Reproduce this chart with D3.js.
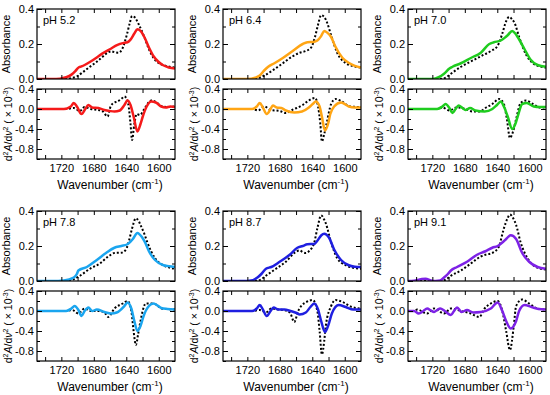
<!DOCTYPE html>
<html lang="en">
  <head>
    <meta charset="UTF-8" />
    <title>Amide I spectra vs pH</title>
    <style>
      body { margin: 0; background: #fff; }
      svg { display: block; font-family: "Liberation Sans", Arial, sans-serif; }
      .box { fill: none; stroke: #000; stroke-width: 1.2; }
      .axis path { display: none; }
      .axis line { stroke: #000; stroke-width: 1; }
      .axis text { font-size: 11px; fill: #000; }
      .ref { fill: none; stroke: #000; stroke-width: 2; stroke-dasharray: 2, 2; }
      .sample { fill: none; stroke-width: 2.5; stroke-linejoin: round; }
    </style>
  </head>
  <body>
    <svg width="550" height="395"></svg>

    <script src="https://d3js.org/d3.v7.min.js"></script>
    <script>
      // Panel labels and tick values
      const phLabels = ["pH 5.2", "pH 6.4", "pH 7.0", "pH 7.8", "pH 8.7", "pH 9.1"];
      const wnDomain = [1750, 1580];
      const wnTicks = [1720, 1680, 1640, 1600];
      const wnMinor = [1740, 1720, 1700, 1680, 1660, 1640, 1620, 1600];
      const absTicks = [0, 0.2, 0.4];
      const absMinor = [0.1, 0.3];
      const d2Domain = [-1.0, 0.4];
      const d2Ticks = [0.4, 0, -0.4, -0.8];
      const d2Minor = [0.2, -0.2, -0.6, -1.0];

      // [wavenumber, value] pairs
      // absorbance, sample (solid) and reference (dotted)
      const abs52 = [[1750,0],[1731.1,0],[1721.7,0.002],[1714.1,0.01],[1707.5,0.025],[1702.8,0.045],[1699,0.065],[1695.2,0.072],[1691.4,0.08],[1683.9,0.1],[1677.3,0.12],[1669.7,0.145],[1660.3,0.17],[1650.8,0.195],[1644.2,0.205],[1638.6,0.21],[1634.8,0.225],[1630.1,0.26],[1626.3,0.285],[1622.5,0.275],[1617.8,0.24],[1612.1,0.18],[1606.4,0.13],[1600.8,0.1],[1595.1,0.08],[1587.6,0.066],[1580,0.06]];
      const absRef52 = [[1750,0],[1716.9,0],[1707.5,0.005],[1700.9,0.015],[1693.3,0.04],[1684.8,0.07],[1677.3,0.095],[1669.7,0.125],[1663.1,0.15],[1658.4,0.158],[1653.7,0.152],[1649.9,0.15],[1645.2,0.17],[1639.5,0.25],[1635.7,0.32],[1632.9,0.36],[1629.1,0.35],[1624.4,0.31],[1617.8,0.24],[1612.1,0.17],[1606.4,0.12],[1599.8,0.09],[1591.3,0.075],[1580,0.065]];
      const abs64 = [[1750,0],[1719.8,0],[1710.3,0.008],[1704.7,0.02],[1699,0.05],[1694.3,0.07],[1686.7,0.09],[1676.3,0.12],[1664.1,0.16],[1651.8,0.2],[1646.1,0.21],[1638.6,0.212],[1633.8,0.22],[1629.1,0.245],[1625.3,0.275],[1621.6,0.265],[1616.8,0.24],[1612.1,0.19],[1602.7,0.12],[1594.2,0.09],[1587.6,0.075],[1580,0.065]];
      const absRef64 = [[1750,0],[1712.2,0],[1704.7,0.008],[1699,0.02],[1688.6,0.05],[1676.3,0.09],[1664.1,0.13],[1655.6,0.15],[1648,0.16],[1641.4,0.18],[1636.7,0.24],[1632.9,0.31],[1629.1,0.365],[1625.3,0.355],[1621.6,0.32],[1616.8,0.25],[1609.3,0.15],[1598.9,0.09],[1590.4,0.075],[1580,0.065]];
      const abs70 = [[1750,0],[1719.8,0],[1712.2,0.01],[1705.6,0.03],[1699,0.06],[1695.2,0.07],[1684.8,0.09],[1672.6,0.12],[1660.3,0.15],[1649.9,0.2],[1644.2,0.21],[1635.7,0.22],[1631,0.235],[1627.2,0.25],[1621.6,0.275],[1617.8,0.26],[1614.9,0.24],[1606.4,0.17],[1598.9,0.11],[1590.4,0.08],[1580,0.07]];
      const absRef70 = [[1750,0],[1710.3,0],[1702.8,0.01],[1697.1,0.03],[1684.8,0.07],[1672.6,0.1],[1660.3,0.13],[1648,0.16],[1639.5,0.19],[1633.8,0.26],[1629.1,0.33],[1625.3,0.355],[1621.6,0.34],[1618.7,0.32],[1613.1,0.24],[1604.6,0.14],[1596.1,0.09],[1587.6,0.072],[1580,0.065]];
      const abs78 = [[1750,0],[1731.1,0],[1716.9,0.003],[1704.7,0.02],[1700.9,0.04],[1699,0.06],[1688.6,0.08],[1676.3,0.12],[1665,0.16],[1654.6,0.19],[1646.1,0.2],[1638.6,0.21],[1634.8,0.225],[1631.9,0.24],[1626.3,0.275],[1620.6,0.25],[1616.8,0.22],[1612.1,0.17],[1604.6,0.12],[1594.2,0.09],[1587.6,0.085],[1580,0.08]];
      const absRef78 = [[1750,0],[1712.2,0],[1704.7,0.01],[1697.1,0.03],[1684.8,0.07],[1672.6,0.1],[1662.2,0.14],[1654.6,0.16],[1646.1,0.162],[1640.4,0.18],[1636.7,0.23],[1632.9,0.3],[1628.2,0.358],[1624.4,0.34],[1622.5,0.32],[1617.8,0.27],[1614,0.22],[1604.6,0.13],[1594.2,0.09],[1587.6,0.078],[1580,0.07]];
      const abs87 = [[1750,0],[1726.4,0],[1713.2,0.005],[1707.5,0.02],[1702.8,0.04],[1697.1,0.07],[1690.5,0.08],[1680.1,0.11],[1667.8,0.15],[1658.4,0.19],[1651.8,0.2],[1646.1,0.21],[1637.6,0.212],[1633.8,0.23],[1629.1,0.26],[1625.3,0.27],[1619.7,0.25],[1613.1,0.18],[1604.6,0.12],[1595.1,0.09],[1587.6,0.082],[1580,0.08]];
      const absRef87 = [[1750,0],[1710.3,0],[1702.8,0.01],[1697.1,0.03],[1684.8,0.07],[1672.6,0.11],[1662.2,0.16],[1655.6,0.175],[1651.8,0.165],[1648,0.16],[1644.2,0.17],[1637.6,0.22],[1633.8,0.3],[1629.1,0.375],[1625.3,0.35],[1623.4,0.33],[1616.8,0.22],[1609.3,0.13],[1598.9,0.09],[1589.4,0.075],[1580,0.07]];
      const abs91 = [[1750,0],[1742.4,0.002],[1736.8,0.008],[1733,0.012],[1728.3,0.013],[1721.7,0.003],[1716,0],[1710.3,0.003],[1705.6,0.02],[1700.9,0.04],[1697.1,0.06],[1689.6,0.08],[1677.3,0.11],[1665,0.15],[1654.6,0.17],[1646.1,0.19],[1639.5,0.2],[1633.8,0.22],[1629.1,0.24],[1623.4,0.262],[1616.8,0.24],[1609.3,0.16],[1600.8,0.11],[1590.4,0.08],[1580,0.07]];
      const absRef91 = [[1750,0],[1707.5,0],[1702.8,0.01],[1697.1,0.03],[1684.8,0.06],[1672.6,0.1],[1660.3,0.14],[1654.6,0.15],[1646.1,0.16],[1637.6,0.2],[1634.8,0.25],[1631.9,0.3],[1627.2,0.36],[1624.4,0.38],[1620.6,0.36],[1616.8,0.32],[1611.2,0.22],[1602.7,0.13],[1592.3,0.08],[1580,0.065]];

      // second derivative (x 10^-3), sample and reference
      const d2_52 = [[1750,0],[1716.9,0],[1708.4,0.05],[1704.7,0.12],[1700.9,0.05],[1695.2,-0.1],[1690.5,0],[1686.7,0.08],[1682,0.03],[1674.4,0.02],[1666.9,-0.02],[1660.3,-0.04],[1654.6,-0.05],[1648,-0.03],[1642.3,0.08],[1638.6,0.17],[1634.8,0.08],[1631,-0.15],[1626.3,-0.45],[1622.5,-0.3],[1619.7,-0.15],[1614.9,0.05],[1609.3,0.15],[1603.6,0.13],[1597,0.05],[1591.3,0.03],[1585.7,0.05],[1580,0.04]];
      const d2Ref52 = [[1750,0],[1714.1,0],[1704.7,0.02],[1697.1,-0.04],[1691.4,0.04],[1683.9,0],[1674.4,-0.02],[1668.8,-0.05],[1663.1,-0.15],[1659.3,0.05],[1655.6,0.12],[1650.8,0.15],[1646.1,0.2],[1642.3,0.25],[1637.6,0.1],[1634.8,-0.3],[1632.9,-0.62],[1630.1,-0.3],[1627.2,-0.1],[1623.4,-0.12],[1617.8,0],[1613.1,0.12],[1609.3,0.17],[1603.6,0.14],[1597,0.06],[1589.4,0.04],[1580,0.05]];
      const d2_64 = [[1750,0],[1714.1,0],[1708.4,0.05],[1704.7,0.12],[1700.9,0.03],[1696.2,-0.1],[1691.4,0],[1688.6,0.07],[1683.9,0.03],[1678.2,0.02],[1672.6,-0.03],[1662.2,-0.07],[1652.7,-0.05],[1644.2,0.03],[1639.5,0.1],[1635.7,0.15],[1631,0.05],[1628.2,-0.15],[1624.4,-0.43],[1620.6,-0.3],[1617.8,-0.1],[1613.1,0.05],[1604.6,0.13],[1595.1,0.05],[1587.6,0.03],[1580,0.03]];
      const d2Ref64 = [[1750,0],[1714.1,0],[1706.6,-0.03],[1699,0.05],[1691.4,-0.02],[1680.1,-0.04],[1672.6,-0.08],[1665,-0.02],[1659.3,0.02],[1651.8,0.08],[1646.1,0.15],[1636.7,0.22],[1632.9,0.05],[1630.1,-0.3],[1628.2,-0.65],[1625.3,-0.5],[1622.5,-0.3],[1616.8,0.1],[1611.2,0.2],[1603.6,0.15],[1593.2,0.05],[1580,0.04]];
      const d2_70 = [[1750,0],[1714.1,0],[1707.5,0.05],[1703.7,0.1],[1699,0.02],[1695.2,-0.08],[1691.4,0],[1687.7,0.07],[1682.9,0.02],[1679.2,-0.02],[1673.5,0.02],[1666.9,-0.03],[1655.6,-0.05],[1646.1,0],[1640.4,0.08],[1635.7,0.15],[1631.9,0.05],[1627.2,-0.15],[1621.6,-0.4],[1617.8,-0.3],[1614.9,-0.15],[1609.3,0.1],[1603.6,0.12],[1595.1,0.05],[1587.6,0.04],[1580,0.04]];
      const d2Ref70 = [[1750,0],[1714.1,0],[1707.5,0.03],[1699,-0.03],[1690.5,0.03],[1679.2,0],[1670.7,-0.05],[1662.2,-0.05],[1653.7,0.03],[1646.1,0.1],[1637.6,0.2],[1631.9,0.1],[1628.2,-0.2],[1624.4,-0.58],[1620.6,-0.45],[1616.8,-0.2],[1611.2,0.12],[1604.6,0.17],[1596.1,0.1],[1587.6,0.03],[1580,0.03]];
      const d2_78 = [[1750,0],[1714.1,0],[1707.5,0.05],[1703.7,0.1],[1699,0.02],[1695.2,-0.1],[1691.4,0],[1686.7,0.07],[1682,0],[1676.3,0.03],[1666.9,-0.02],[1658.4,-0.05],[1651.8,-0.03],[1642.3,0.1],[1638.6,0.17],[1633.8,0.05],[1630.1,-0.2],[1626.3,-0.4],[1622.5,-0.3],[1618.7,-0.1],[1612.1,0.1],[1606.4,0.15],[1597,0.06],[1589.4,0.04],[1580,0.03]];
      const d2Ref78 = [[1750,0],[1714.1,0],[1706.6,0.02],[1699,-0.05],[1691.4,0.05],[1683.9,0],[1672.6,0],[1665.9,-0.05],[1662.2,-0.12],[1654.6,0.05],[1644.2,0.15],[1638.6,0.2],[1633.8,0],[1631,-0.4],[1628.2,-0.68],[1625.3,-0.45],[1622.5,-0.2],[1615.9,0.15],[1606.4,0.15],[1596.1,0.05],[1580,0.03]];
      const d2_87 = [[1750,0],[1714.1,0],[1708.4,0.05],[1704.7,0.12],[1700.9,0.03],[1696.2,-0.1],[1691.4,0],[1687.7,0.07],[1682,0.03],[1674.4,0.03],[1666.9,0],[1659.3,-0.04],[1655.6,-0.07],[1648,-0.03],[1642.3,0.08],[1637.6,0.15],[1632.9,0.03],[1629.1,-0.2],[1624.4,-0.42],[1620.6,-0.3],[1615.9,-0.05],[1607.4,0.12],[1598.9,0.08],[1589.4,0.03],[1580,0.03]];
      const d2Ref87 = [[1750,0],[1714.1,0],[1704.7,0.02],[1697.1,-0.03],[1690.5,0.05],[1682,0.03],[1670.7,0],[1666.9,-0.05],[1662.2,-0.22],[1657.4,0],[1653.7,0.1],[1647.1,0.18],[1639.5,0.22],[1633.8,0],[1631,-0.4],[1628.2,-0.87],[1625.3,-0.6],[1623.4,-0.3],[1616.8,0.1],[1611.2,0.22],[1602.7,0.18],[1591.3,0.08],[1580,0.05]];
      const d2_91 = [[1750,0],[1742.4,0],[1736.8,-0.05],[1731.1,0],[1726.4,0.05],[1721.7,0.01],[1717.9,-0.02],[1714.1,0.02],[1710.3,0.05],[1704.7,0],[1697.1,-0.08],[1693.3,0],[1689.6,0.07],[1683.9,-0.02],[1677.3,0.02],[1669.7,-0.03],[1660.3,-0.02],[1648,0.05],[1639.5,0.17],[1633.8,0],[1629.1,-0.2],[1623.4,-0.35],[1616.8,-0.2],[1613.1,0],[1606.4,0.12],[1597.9,0.08],[1589.4,0.04],[1580,0.03]];
      const d2Ref91 = [[1750,0],[1742.4,0],[1738.7,0.03],[1726.4,-0.05],[1717.9,0.05],[1705.6,-0.05],[1697.1,0.05],[1684.8,0],[1672.6,-0.05],[1662.2,-0.12],[1655.6,0.05],[1648,0.15],[1639.5,0.2],[1633.8,0],[1629.1,-0.4],[1624.4,-0.78],[1619.7,-0.3],[1616.8,0.1],[1609.3,0.23],[1600.8,0.15],[1590.4,0.05],[1580,0.03]];

      const absSample = [abs52, abs64, abs70, abs78, abs87, abs91];
      const absRef = [absRef52, absRef64, absRef70, absRef78, absRef87, absRef91];
      const d2Sample = [d2_52, d2_64, d2_70, d2_78, d2_87, d2_91];
      const d2Ref = [d2Ref52, d2Ref64, d2Ref70, d2Ref78, d2Ref87, d2Ref91];
      const colors = ["#f51a1a", "#ffa514", "#1fcc1f", "#1aa5ef", "#1f1fe0", "#7d22e6"];

      // layout
      const colX = [37, 223, 408];
      const rowY = [9, 211];
      const w = 138;
      const hA = 70;
      const gap = 10;
      const hD = 70;

      const svg = d3.select("svg");
      const fmt = (d) => d.toFixed(1);

      const x = d3.scaleLinear().domain(wnDomain).range([0, w]);
      const yA = d3.scaleLinear().domain([0, 0.4]).range([hA, 0]);
      const yD = d3.scaleLinear().domain(d2Domain).range([hD, 0]);

      const clipA = svg.append("clipPath").attr("id", "clipA");
      clipA.append("rect").attr("width", w).attr("height", hA);
      const clipD = svg.append("clipPath").attr("id", "clipD");
      clipD.append("rect").attr("width", w).attr("height", hD);

      // draw inward ticks on all four sides of a box
      function frame(g, y, h, major, minor, labelX) {
        g.append("g").attr("class", "axis")
          .call(d3.axisLeft(y).tickValues(major).tickSize(-5).tickPadding(3).tickFormat(fmt));
        g.append("g").attr("class", "axis")
          .call(d3.axisLeft(y).tickValues(minor).tickSize(-3).tickFormat(""));
        g.append("g").attr("class", "axis").attr("transform", `translate(${w},0)`)
          .call(d3.axisRight(y).tickValues(major).tickSize(-5).tickFormat(""));
        g.append("g").attr("class", "axis").attr("transform", `translate(${w},0)`)
          .call(d3.axisRight(y).tickValues(minor).tickSize(-3).tickFormat(""));
        g.append("g").attr("class", "axis")
          .call(d3.axisTop(x).tickValues(wnMinor).tickSize(-4).tickFormat(""));
        g.append("g").attr("class", "axis").attr("transform", `translate(0,${h})`)
          .call(d3.axisBottom(x).tickValues(wnMinor).tickSize(-4).tickFormat(""));
        if (labelX) {
          g.append("g").attr("class", "axis").attr("transform", `translate(0,${h})`)
            .call(d3.axisBottom(x).tickValues(wnTicks).tickSize(0).tickPadding(5)
              .tickFormat(d3.format("d")));
        }
        g.append("rect").attr("class", "box").attr("width", w).attr("height", h);
      }

      const lineA = d3.line().x((d) => x(d[0])).y((d) => yA(d[1])).curve(d3.curveMonotoneX);
      const lineD = d3.line().x((d) => x(d[0])).y((d) => yD(d[1])).curve(d3.curveMonotoneX);

      phLabels.forEach((label, i) => {
        const px = colX[i % 3];
        const py = rowY[Math.floor(i / 3)];

        // absorbance panel
        const gA = svg.append("g").attr("transform", `translate(${px},${py})`);
        const pA = gA.append("g").attr("clip-path", "url(#clipA)");
        pA.append("path").attr("class", "ref").attr("d", lineA(absRef[i]));
        pA.append("path").attr("class", "sample").attr("stroke", colors[i])
          .attr("d", lineA(absSample[i]));
        frame(gA, yA, hA, absTicks, absMinor, false);
        gA.append("text").attr("x", 6).attr("y", 15)
          .attr("font-size", 11).text(label);
        gA.append("text")
          .attr("transform", `translate(-27,${hA / 2}) rotate(-90)`)
          .attr("text-anchor", "middle").attr("font-size", 11)
          .text("Absorbance");

        // second derivative panel
        const gD = svg.append("g").attr("transform", `translate(${px},${py + hA + gap})`);
        const pD = gD.append("g").attr("clip-path", "url(#clipD)");
        pD.append("path").attr("class", "ref").attr("d", lineD(d2Ref[i]));
        pD.append("path").attr("class", "sample").attr("stroke", colors[i])
          .attr("d", lineD(d2Sample[i]));
        frame(gD, yD, hD, d2Ticks, d2Minor, true);

        const yl = gD.append("text")
          .attr("transform", `translate(-25,${hD / 2}) rotate(-90)`)
          .attr("text-anchor", "middle").attr("font-size", 10.5);
        yl.append("tspan").text("d");
        yl.append("tspan").attr("font-size", 7).attr("dy", -4).text("2");
        yl.append("tspan").attr("dy", 4).attr("font-style", "italic").text("A");
        yl.append("tspan").text("/d");
        yl.append("tspan").attr("font-style", "italic").text("ν");
        yl.append("tspan").attr("font-size", 7).attr("dy", -4).text("2");
        yl.append("tspan").attr("dy", 4).text(" ( × 10");
        yl.append("tspan").attr("font-size", 7).attr("dy", -4).text("-3");
        yl.append("tspan").attr("dy", 4).text(")");

        const xl = gD.append("text")
          .attr("x", w / 2 + 4).attr("y", hD + 30)
          .attr("text-anchor", "middle").attr("font-size", 12);
        xl.append("tspan").text("Wavenumber (cm");
        xl.append("tspan").attr("font-size", 8).attr("dy", -5).text("-1");
        xl.append("tspan").attr("dy", 5).text(")");
      });
    </script>
  </body>
</html>
